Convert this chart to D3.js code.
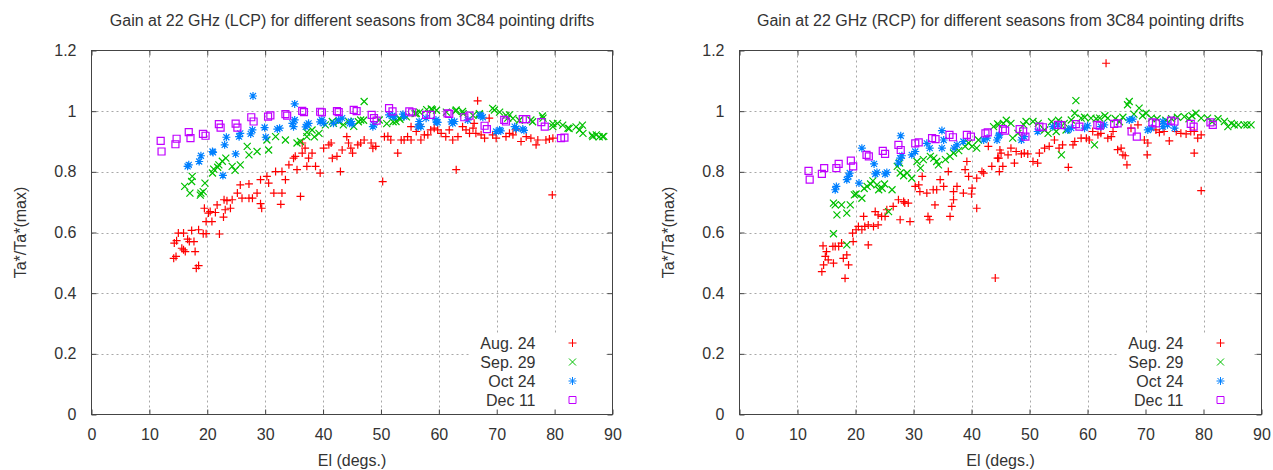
<!DOCTYPE html>
<html><head><meta charset="utf-8">
<script src="https://cdn.jsdelivr.net/npm/d3@7"></script>
<style>body{margin:0;background:#fff} svg{display:block} text{font-family:"Liberation Sans",Arial,sans-serif;fill:#333;font-size:16px}</style>
</head><body><svg id="c" width="1273" height="470"></svg>
<script>
// ---------- data (elevation deg, Ta*/Ta*(max)) ----------
const seasons = ["Aug. 24", "Sep. 29", "Oct 24", "Dec 11"];
const xTicks = [0, 10, 20, 30, 40, 50, 60, 70, 80, 90];
const yTicks = [0, 0.2, 0.4, 0.6, 0.8, 1.0, 1.2];
const yTickLabels = ["0", "0.2", "0.4", "0.6", "0.8", "1", "1.2"];
const titles = ["Gain at 22 GHz (LCP) for different seasons from 3C84 pointing drifts",
                "Gain at 22 GHz (RCP) for different seasons from 3C84 pointing drifts"];

const lcpAug = [[14.2,0.515],[14.6,0.521],[15.0,0.598],[15.9,0.598],[14.3,0.565],[14.7,0.573],[15.6,0.548],[15.9,0.543],[16.2,0.537],[16.6,0.578],[16.9,0.570],[17.7,0.570],[17.9,0.537],[18.1,0.482],[18.5,0.491],[17.3,0.607],[18.5,0.609],[19.3,0.596],[19.8,0.596],[19.8,0.636],[20.8,0.636],[20.2,0.664],[20.5,0.669],[19.5,0.680],[21.7,0.691],[21.4,0.666],[22.1,0.595],[22.8,0.651],[23.1,0.675],[24.0,0.680],[29.2,0.695],[29.4,0.680],[32.7,0.693],
 [22.9,0.708],[23.4,0.705],[24.3,0.708],[25.2,0.730],[25.7,0.757],[27.2,0.760],[26.0,0.713],[27.2,0.713],[27.8,0.713],[28.6,0.730],[29.2,0.774],[30.3,0.785],[30.6,0.763],[31.5,0.730],[32.9,0.730],[31.8,0.801],[32.9,0.801],[33.5,0.774],[34.1,0.823],[34.9,0.845],[35.2,0.851],[35.5,0.807],[36.1,0.719],[36.4,0.862],[36.9,0.878],[37.5,0.845],[38.1,0.862],[37.2,0.818],[38.7,0.818],[39.5,0.796],[40.1,0.878],[41.0,0.889],[41.4,0.895],[41.6,0.845],[42.4,0.851],[43.0,0.801],[43.3,0.872],[44.1,0.916],[44.4,0.895],[36.4,0.895],
 [44.8,0.878],[45.1,0.862],[46.0,0.889],[46.5,0.895],[47.1,0.905],[48.3,0.895],[48.6,0.878],[49.1,0.884],[50.3,0.768],[50.6,0.916],[51.2,0.917],[51.7,0.905],[52.9,0.862],[53.5,0.905],[54.0,0.905],[54.6,0.916],[55.2,0.905],[55.2,0.949],[56.1,0.933],[56.6,0.955],[56.9,0.905],[57.5,0.922],[58.1,0.922],[58.6,0.938],[59.2,0.944],[59.8,0.938],[60.4,0.927],[61.2,0.916],[61.8,0.938],[62.4,0.905],[63.0,0.807],[63.3,0.916],[64.1,0.949],[64.7,0.938],[65.3,0.927],[65.9,0.944],[66.7,1.034],[66.1,0.960],[66.4,0.927],[67.3,0.922],[67.9,0.911],[68.7,0.977],[69.3,0.922],[69.9,0.911],[71.6,0.916],[72.2,0.927],[72.8,0.922],[73.3,0.938],[74.2,0.900],[75.1,0.916],[75.9,0.911],[76.8,0.889],[77.1,0.905],[78.5,0.905],[79.1,0.908],[79.7,0.911],[79.6,0.724]];

const lcpSep = [[16.1,0.752],[17.3,0.768],[17.4,0.785],[18.9,0.730],[19.3,0.735],[19.6,0.763],[18.8,0.723],[17.0,0.730],[20.9,0.796],[21.1,0.809],[22.0,0.823],[23.2,0.845],[24.3,0.818],[25.7,0.823],[26.9,0.884],[27.2,0.856],[28.6,0.867],[30.3,0.905],[30.6,0.872],[31.8,0.916],[33.5,0.905],[35.5,0.895],[36.1,0.900],[37.2,0.916],[38.1,0.938],[39.3,0.927],[40.4,0.955],[41.6,0.966],[42.7,0.966],[44.4,0.966],[47.1,1.032],[46.5,0.971],[49.7,0.971],[52.6,0.966],[53.2,0.977],[56.1,0.993],[58.9,1.004],[63.0,1.004],[64.1,0.999],[67.0,0.988],[69.6,1.004],[71.9,0.977],[72.2,0.988],[75.9,0.971],[78.0,0.977],[79.7,0.949],[80.5,0.960],[82.3,0.944],[84.3,0.938],[84.9,0.927],[86.6,0.916],[87.2,0.922],[88.3,0.916],
 [46.1,0.965],[47.0,0.970],[51.0,0.959],[52.1,0.965],[53.3,0.973],[54.4,0.981],[55.9,0.992],[56.7,0.997],[57.9,1.005],[58.7,1.007],[59.6,1.003],[61.3,0.997],[62.9,1.000],[64.2,0.992],[65.9,0.986],[67.0,0.992],[69.3,1.009],[70.5,0.997],[71.6,0.986],[72.8,0.976],[73.9,0.970],[76.2,0.965],[77.9,0.984],[79.7,0.959],[81.4,0.954],[82.5,0.943],[83.7,0.948],[84.8,0.954],[86.5,0.921],[87.7,0.915],[88.5,0.917],[37.2,0.930],[38.5,0.915],[41.8,0.960],[43.5,0.955],[45.3,0.950],[21.8,0.815],[22.6,0.835],[24.8,0.805]];

const lcpOct = [[27.9,1.050],[16.6,0.818],[16.8,0.823],[18.6,0.834],[18.9,0.853],[20.9,0.867],[21.0,0.864],[22.7,0.788],[23.0,0.889],[23.3,0.914],[24.9,0.859],[25.5,0.916],[25.7,0.927],[27.5,0.925],[27.8,0.938],[29.9,0.946],[30.1,0.914],[32.1,0.941],[32.5,0.944],[34.7,0.960],[34.9,0.949],[35.1,0.971],[35.1,1.024],[37.2,0.955],[37.5,0.960],[39.8,0.971],[40.1,0.960],[42.7,0.971],[43.3,0.977],[45.0,0.958],[44.8,0.966],[48.6,0.949],[48.8,0.955],[51.4,0.988],[52.0,0.985],[54.0,0.982],[56.6,0.966],[56.9,0.949],[57.8,0.977],[59.5,0.971],[59.8,0.963],[62.4,0.960],[62.7,0.966],[65.0,0.971],[67.3,0.985],[67.6,0.980],[69.9,0.933],[70.5,0.938],[73.1,0.949],[74.5,0.941],
 [37.0,0.948],[39.5,0.965],[41.8,0.960],[44.6,0.960],[52.3,0.981],[53.8,0.990],[56.4,0.948],[59.6,0.965],[62.2,0.965],[67.1,0.987],[70.7,0.935],[73.4,0.943],[74.7,0.937]];

const lcpDec = [[11.95,0.902],[12.1,0.867],[14.5,0.891],[14.7,0.909],[16.8,0.931],[17.1,0.911],[19.25,0.925],[19.7,0.919],[22.0,0.957],[22.3,0.946],[24.9,0.959],[25.2,0.946],[27.6,0.980],[28.0,0.966],[30.5,0.982],[30.9,0.986],[33.5,0.990],[33.8,0.985],[36.4,1.001],[36.7,0.997],[39.5,0.998],[39.8,0.996],[42.4,1.000],[42.7,0.997],[45.3,1.004],[45.8,1.000],[48.4,0.988],[48.8,0.977],[49.25,0.969],[51.4,1.010],[52.0,0.999],[54.9,0.999],[55.4,0.996],[57.8,0.988],[58.6,0.988],[61.5,0.993],[61.8,0.991],[64.4,0.980],[65.3,0.985],[67.9,0.952],[68.3,0.941],[71.3,0.971],[71.6,0.966],[74.5,0.974],[75.1,0.974],[77.7,0.964],[78.3,0.949],[81.1,0.911],[81.7,0.913]];

const rcpAug = [[14.2,0.471],[14.4,0.556],[15.0,0.537],[14.8,0.521],[14.5,0.493],[15.3,0.510],[16.1,0.554],[16.5,0.554],[17.1,0.554],[17.6,0.565],[16.2,0.499],[17.9,0.515],[18.5,0.526],[18.8,0.493],[18.2,0.449],[19.6,0.570],[19.5,0.598],[20.1,0.609],[20.5,0.620],[21.1,0.609],[21.4,0.653],[21.6,0.620],[22.2,0.625],[23.1,0.620],[23.9,0.625],[22.2,0.559],[23.4,0.669],[23.9,0.658],[24.5,0.653],[25.1,0.653],[25.4,0.675],[26.5,0.686],[27.7,0.642],[29.4,0.636],[28.5,0.697],[29.1,0.697],[33.7,0.691],[32.8,0.642],[32.5,0.653],[36.3,0.653],[36.6,0.686],[40.9,0.680],
 [27.4,0.708],[28.3,0.702],[30.3,0.752],[30.9,0.757],[31.5,0.785],[32.3,0.730],[34.0,0.741],[34.6,0.774],[35.2,0.752],[36.0,0.801],[36.9,0.708],[37.5,0.752],[38.6,0.730],[38.9,0.807],[39.2,0.834],[39.5,0.785],[40.1,0.746],[40.9,0.779],[41.8,0.801],[42.1,0.796],[42.9,0.884],[43.5,0.818],[44.7,0.845],[44.9,0.872],[31.1,0.735],[33.4,0.741],[36.9,0.735],[40.0,0.727],[44.1,0.450],
 [44.5,0.845],[44.8,0.801],[45.4,0.818],[45.1,0.862],[46.3,0.856],[46.8,0.878],[47.4,0.829],[47.7,0.867],[48.6,0.859],[49.1,0.862],[49.7,0.859],[50.6,0.834],[51.4,0.829],[51.7,0.862],[52.6,0.878],[53.4,0.884],[54.3,0.905],[55.1,0.878],[55.7,0.889],[56.7,0.815],[57.5,0.889],[57.8,0.900],[58.9,0.911],[59.8,0.911],[60.3,0.905],[60.9,0.933],[61.8,0.922],[62.3,0.927],[63.2,1.158],[63.5,0.911],[64.1,0.916],[64.4,0.933],[65.2,0.873],[65.8,0.878],[66.1,0.856],[66.5,0.853],[66.8,0.823],[67.5,0.944],[68.7,0.955],[69.8,0.905],[70.3,0.856],[70.4,0.895],[71.8,0.938],[72.4,0.930],[73.2,0.933],[74.1,0.902],[75.3,0.933],[76.1,0.927],[77.0,0.925],[77.8,0.933],[78.4,0.933],[78.4,0.862],[79.0,0.911],[79.6,0.922],[79.6,0.738]];

const rcpSep = [[16.2,0.596],[18.5,0.559],[16.5,0.691],[17.6,0.691],[16.8,0.658],[19.1,0.691],[18.5,0.664],[25.7,0.669],[16.2,0.697],[19.8,0.724],[20.1,0.727],[21.1,0.713],[22.0,0.752],[22.6,0.760],[23.7,0.757],[24.0,0.741],[24.6,0.746],[26.3,0.741],[27.7,0.796],[28.3,0.787],[27.2,0.818],[27.6,0.829],[28.9,0.796],[29.7,0.779],[31.2,0.812],[30.6,0.834],[31.7,0.840],[32.9,0.851],[34.0,0.834],[34.3,0.823],[35.5,0.840],[36.3,0.851],[36.9,0.862],[38.9,0.884],[39.5,0.895],[40.1,0.884],[40.9,0.878],[41.2,0.905],[43.8,0.949],[44.7,0.955],[44.5,0.958],[46.8,0.960],[47.1,0.911],[48.0,0.927],[49.4,0.966],[50.6,0.966],[52.6,0.938],[53.2,0.927],[54.6,0.933],[55.5,0.856],[56.3,0.938],[57.2,0.971],[58.0,1.035],[57.8,0.993],[58.9,0.977],[61.2,0.889],[60.6,0.977],[62.1,0.977],[63.5,0.977],[66.1,0.980],[67.2,1.032],[66.9,1.021],[68.9,1.010],[70.1,0.993],[71.0,0.977],[75.5,0.980],[76.7,0.982],[78.7,0.993],[79.6,0.977],[80.7,0.977],[83.6,0.966],[84.2,0.949],[85.3,0.955],[87.0,0.955],[88.2,0.955],
 [45.5,0.960],[46.0,0.970],[49.0,0.955],[51.5,0.960],[53.8,0.965],[55.0,0.970],[56.0,0.960],[59.5,0.980],[61.5,0.975],[63.0,0.985],[64.8,0.975],[65.5,0.965],[68.0,0.990],[69.5,0.985],[72.0,0.975],[73.5,0.970],[74.5,0.975],[77.5,0.975],[78.0,0.985],[81.5,0.965],[82.5,0.975],[84.8,0.960],[86.0,0.955],[87.5,0.955],[21.5,0.745],[23.0,0.770],[25.0,0.760],[33.5,0.845],[37.8,0.870]];

const rcpOct = [[16.5,0.741],[16.7,0.752],[18.5,0.774],[18.8,0.785],[19.0,0.796],[20.6,0.763],[21.1,0.878],[23.2,0.826],[23.4,0.793],[23.7,0.798],[25.1,0.793],[25.4,0.798],[27.8,0.919],[27.7,0.845],[28.0,0.853],[27.4,0.829],[29.7,0.856],[30.3,0.867],[32.3,0.894],[32.8,0.878],[34.9,0.936],[35.2,0.905],[34.9,0.878],[37.5,0.889],[37.0,0.878],[38.6,0.900],[42.1,0.905],[42.7,0.911],[44.4,0.905],[44.7,0.919],[44.8,0.922],[48.6,0.905],[49.1,0.916],[51.4,0.933],[54.0,0.949],[54.9,0.955],[56.6,0.938],[57.2,0.944],[59.5,0.944],[60.0,0.952],[62.3,0.949],[62.9,0.955],[67.2,0.971],[67.8,0.974],[70.4,0.938],[71.0,0.944],[73.0,0.949],[73.8,0.955],[75.0,0.944],[73.0,0.966]];

const rcpDec = [[11.9,0.803],[12.1,0.774],[14.2,0.793],[14.6,0.812],[16.7,0.812],[17.1,0.826],[19.2,0.837],[19.6,0.818],[21.9,0.856],[22.3,0.851],[24.7,0.869],[25.1,0.859],[27.4,0.889],[27.8,0.872],[30.3,0.894],[30.9,0.897],[33.2,0.911],[33.8,0.908],[36.2,0.922],[36.8,0.914],[39.2,0.922],[39.9,0.916],[42.4,0.927],[42.8,0.930],[45.4,0.941],[45.8,0.936],[48.3,0.941],[48.9,0.933],[49.3,0.916],[51.7,0.949],[52.3,0.947],[54.9,0.955],[55.5,0.954],[58.0,0.957],[58.6,0.949],[61.7,0.955],[62.1,0.952],[64.6,0.958],[65.2,0.960],[67.6,0.933],[68.5,0.916],[71.2,0.963],[71.8,0.960],[74.4,0.969],[75.0,0.966],[77.8,0.958],[78.3,0.949],[81.2,0.963],[81.6,0.955]];

// ---------- drawing ----------
const colors = ["#ff0000", "#00c000", "#0080ff", "#c000ff"];
const symbols = ["plus", "cross", "star", "square"];
function symPath(t) {
  const r = 4, q = 3.5, s = 3.5;
  if (t === "plus") return `M${-r},0H${r}M0,${-r}V${r}`;
  if (t === "cross") return `M${-q},${-q}L${q},${q}M${-q},${q}L${q},${-q}`;
  if (t === "star") return `M${-r},0H${r}M0,${-r}V${r}M${-q + 0.5},${-q + 0.5}L${q - 0.5},${q - 0.5}M${-q + 0.5},${q - 0.5}L${q - 0.5},${-q + 0.5}`;
  return `M${-s},${-s}H${s}V${s}H${-s}Z`;
}

const svg = d3.select("#c");
const plotTop = 50.5, plotBottom = 414.5;

function panel(x0, x1, title, series) {
  const x = d3.scaleLinear().domain([0, 90]).range([x0, x1]);
  const y = d3.scaleLinear().domain([0, 1.2]).range([plotBottom, plotTop]);
  const g = svg.append("g");

  // grid
  const grid = g.append("g").attr("stroke", "#a8a8a8").attr("stroke-dasharray", "2,3").attr("stroke-width", 1);
  xTicks.slice(1, -1).forEach(v => grid.append("line").attr("x1", Math.round(x(v)) + 0.5).attr("x2", Math.round(x(v)) + 0.5).attr("y1", plotTop).attr("y2", plotBottom));
  yTicks.slice(1, -1).forEach(v => grid.append("line").attr("y1", Math.round(y(v)) + 0.5).attr("y2", Math.round(y(v)) + 0.5).attr("x1", x0).attr("x2", x1));

  // key background
  g.append("rect").attr("x", x0 + 378).attr("y", 333).attr("width", 135).attr("height", plotBottom - 333).attr("fill", "#fff");

  // points
  series.forEach((s, i) => {
    g.append("g").selectAll("path").data(s).join("path")
      .attr("d", symPath(symbols[i]))
      .attr("transform", d => `translate(${x(d[0])},${y(d[1])})`)
      .attr("fill", "none").attr("stroke", colors[i]).attr("stroke-width", 1.2);
  });

  // frame
  g.append("rect").attr("x", x0).attr("y", plotTop).attr("width", x1 - x0).attr("height", plotBottom - plotTop)
    .attr("fill", "none").attr("stroke", "#444").attr("stroke-width", 1);

  // axes
  const ax = g.append("g").attr("transform", `translate(0,${plotBottom})`)
    .call(d3.axisBottom(x).tickValues(xTicks).tickSize(-5).tickPadding(14).tickFormat(d3.format("d")));
  const axT = g.append("g").attr("transform", `translate(0,${plotTop})`)
    .call(d3.axisTop(x).tickValues(xTicks).tickSize(-5).tickFormat(""));
  const ay = g.append("g").attr("transform", `translate(${x0},0)`)
    .call(d3.axisLeft(y).tickValues(yTicks).tickSize(-5).tickPadding(15).tickFormat((d, i) => yTickLabels[i]));
  const ayR = g.append("g").attr("transform", `translate(${x1},0)`)
    .call(d3.axisRight(y).tickValues(yTicks).tickSize(-5).tickFormat(""));
  [ax, axT, ay, ayR].forEach(a => {
    a.select(".domain").remove();
    a.selectAll("line").attr("stroke", "#444");
    a.selectAll("text").attr("font-size", 16).attr("fill", "#333").attr("font-family", '"Liberation Sans",Arial,sans-serif');
  });

  const cx = (x0 + x1) / 2;
  g.append("text").attr("x", cx).attr("y", 26).attr("text-anchor", "middle").text(title);
  g.append("text").attr("x", cx).attr("y", 466).attr("text-anchor", "middle").text("El (degs.)");
  g.append("text").attr("transform", `translate(${x0 - 71.5},${(plotTop + plotBottom) / 2}) rotate(-90)`)
    .attr("text-anchor", "middle").attr("dy", "0.35em").text("Ta*/Ta*(max)");

  // legend
  seasons.forEach((name, i) => {
    const yy = 343 + i * 19;
    g.append("text").attr("x", x0 + 444).attr("y", yy).attr("dy", "0.35em").attr("text-anchor", "end").text(name);
    g.append("path").attr("d", symPath(symbols[i])).attr("transform", `translate(${x0 + 481},${yy})`)
      .attr("fill", "none").attr("stroke", colors[i]).attr("stroke-width", 1);
  });
}

panel(91.5, 612.5, titles[0], [lcpAug, lcpSep, lcpOct, lcpDec]);
panel(739.5, 1261.5, titles[1], [rcpAug, rcpSep, rcpOct, rcpDec]);
</script></body></html>
